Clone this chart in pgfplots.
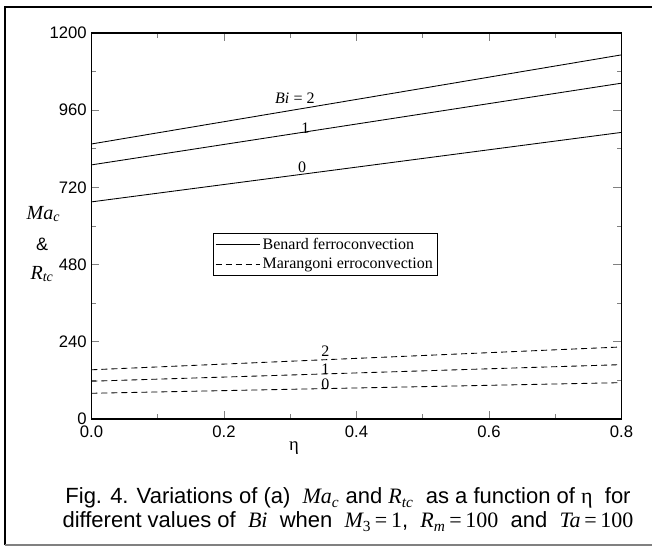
\documentclass[border=0pt]{standalone}
\usepackage{fontspec}
\setmainfont{Liberation Sans}
\newfontfamily\timesf{Liberation Serif}
\usepackage{pgfplots}
\pgfplotsset{compat=1.18}
\newcommand{\mi}[1]{{\timesf\itshape #1}}
\newcommand{\tm}[1]{{\timesf #1}}
\begin{document}
\begin{tikzpicture}
\useasboundingbox (-68.6pt,-96pt) rectangle (420.4pt,314.25pt);
\begin{axis}[
  at={(0pt,0pt)}, anchor=south west,
  scale only axis, width=397.5pt, height=289.5pt,
  xmin=0, xmax=0.8, ymin=0, ymax=1200,
  xtick={0,0.2,0.4,0.6,0.8}, ytick={0,240,480,720,960,1200},
  minor x tick num=1, minor y tick num=1,
  major tick length=6pt, minor tick length=3.5pt,
  tick align=inside,
  tick style={line width=0.7pt},
  x tick label style={/pgf/number format/fixed, /pgf/number format/fixed zerofill, /pgf/number format/precision=1, yshift=-1.5pt},
  y tick label style={/pgf/number format/1000 sep={}},
  /pgf/number format/assume math mode=true,
  tick label style={font=\fontsize{12.5}{14}\selectfont},
  axis line style={line width=0.8pt},
  legend style={at={(0.229,0.482)}, anchor=north west, font=\timesf\fontsize{12}{14}\selectfont, draw=black, inner sep=1.5pt, row sep=1pt, cells={anchor=west}},
  legend cell align=left,
  legend image code/.code={\draw[#1] (0pt,0pt) -- (33pt,0pt);},
]
\addplot[black, line width=0.65pt] coordinates {(0,855) (0.8,1132)};
\addlegendentry{Benard ferroconvection}
\addplot[black, line width=0.65pt, forget plot] coordinates {(0,790) (0.8,1044)};
\addplot[black, line width=0.65pt, forget plot] coordinates {(0,675) (0.8,891)};
\addplot[black, line width=0.65pt, dash pattern=on 4.5pt off 3pt] coordinates {(0,153) (0.8,224)};
\addlegendentry{Marangoni erroconvection}
\addplot[black, line width=0.65pt, dash pattern=on 4.5pt off 3pt, forget plot] coordinates {(0,117.5) (0.8,169)};
\addplot[black, line width=0.65pt, dash pattern=on 4.5pt off 3pt, forget plot] coordinates {(0,80) (0.8,113)};
\node[font=\fontsize{12}{14}\selectfont] at (axis cs:0.307,998) {\mi{Bi} \tm{= 2}};
\node[font=\fontsize{12}{14}\selectfont] at (axis cs:0.323,905) {\tm{1}};
\node[font=\fontsize{12}{14}\selectfont] at (axis cs:0.318,783) {\tm{0}};
\node[font=\fontsize{12}{14}\selectfont] at (axis cs:0.353,210) {\tm{2}};
\node[font=\fontsize{12}{14}\selectfont] at (axis cs:0.353,154) {\tm{1}};
\node[font=\fontsize{12}{14}\selectfont] at (axis cs:0.353,108) {\tm{0}};
\end{axis}
% axis title pieces
\node[font=\fontsize{15}{17}\selectfont] at (-36pt,153.75pt) {\mi{Ma\textsubscript{c}}};
\node[font=\fontsize{13.5}{15}\selectfont] at (-37pt,131pt) {\&};
\node[font=\fontsize{15}{17}\selectfont] at (-37pt,108.75pt) {\mi{R\textsubscript{tc}}};
\node[font=\fontsize{14}{16}\selectfont] at (151.9pt,-22pt) {\tm{η}};
% caption
\node[font=\fontsize{16.5}{18}\selectfont, align=center] at (192.4pt,-68pt) {Fig. 4. Variations of (a) \ \mi{Ma\textsubscript{c}} and \mi{R\textsubscript{tc}} \ as a function of \tm{η} \ for\\different values of \ \mi{Bi} \ when \ \mi{M}\tm{\textsubscript{3}\,=\,1}, \ \mi{R\textsubscript{m}}\tm{\,=\,100} \ and \ \mi{Ta}\tm{\,=\,100}};
% frame
\draw[line width=1.5pt] (-64.9pt,-94.5pt) -- (-64.9pt,309pt) -- (420.4pt,309pt);
\draw[gray, line width=1pt] (-64.9pt,-94.5pt) -- (420.4pt,-94.5pt);
\end{tikzpicture}
\end{document}
